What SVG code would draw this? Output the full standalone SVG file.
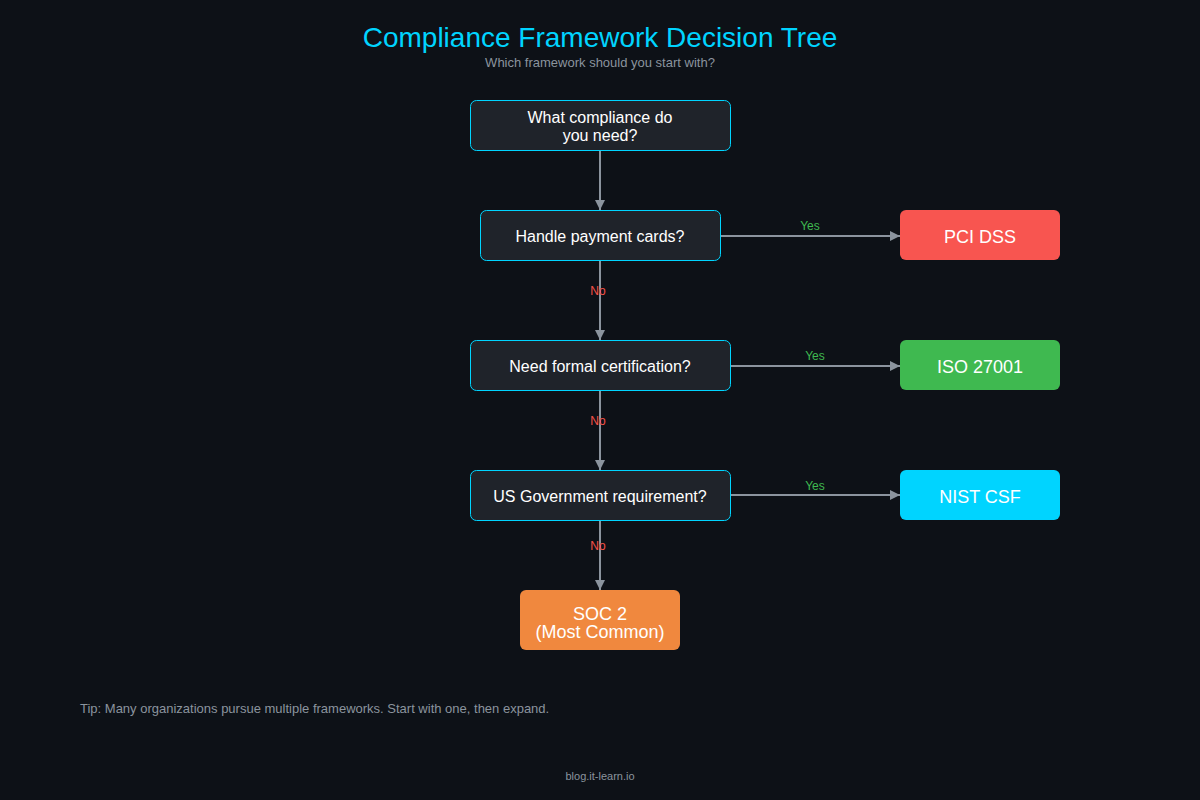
<svg xmlns="http://www.w3.org/2000/svg" width="1200" height="800" viewBox="0 0 1200 800">
<defs>
<marker id="arr" markerWidth="10" markerHeight="10" refX="10" refY="5" orient="auto" markerUnits="userSpaceOnUse">
<path d="M0,0 L10,5 L0,10 Z" fill="#8b949e"/>
</marker>
<style>
text{font-family:"Liberation Sans",Arial,sans-serif}
.q rect{fill:#1f232a;stroke:#00d4ff;stroke-width:1}
.q text{fill:#ffffff;font-size:16px;text-anchor:middle}
.r text{fill:#ffffff;font-size:18px;text-anchor:middle}
.c{stroke:#8b949e;stroke-width:2;fill:none}
.yes{fill:#3fb950;font-size:12px;text-anchor:middle}
.no{fill:#f85149;font-size:12px;text-anchor:middle}
</style>
</defs>
<rect width="1200" height="800" fill="#0d1117"/>
<text x="600" y="47" font-size="28" fill="#00d4ff" text-anchor="middle">Compliance Framework Decision Tree</text>
<text x="600" y="67" font-size="13" fill="#8b949e" text-anchor="middle">Which framework should you start with?</text>

<g id="connectors">
<line class="c" x1="600" y1="150" x2="600" y2="210" marker-end="url(#arr)"/>
<line class="c" x1="720" y1="236" x2="900" y2="236" marker-end="url(#arr)"/>
<line class="c" x1="600" y1="260" x2="600" y2="340" marker-end="url(#arr)"/>
<line class="c" x1="730" y1="366" x2="900" y2="366" marker-end="url(#arr)"/>
<line class="c" x1="600" y1="390" x2="600" y2="470" marker-end="url(#arr)"/>
<line class="c" x1="730" y1="495" x2="900" y2="495" marker-end="url(#arr)"/>
<line class="c" x1="600" y1="520" x2="600" y2="590" marker-end="url(#arr)"/>
<text class="yes" x="810" y="230">Yes</text>
<text class="yes" x="815" y="360">Yes</text>
<text class="yes" x="815" y="490">Yes</text>
<text class="no" x="598" y="295">No</text>
<text class="no" x="598" y="425">No</text>
<text class="no" x="598" y="550">No</text>
</g>

<g id="start" class="q">
<rect x="470.5" y="100.5" width="260" height="50" rx="6"/>
<text x="600" y="123">What compliance do</text>
<text x="600" y="141">you need?</text>
</g>
<g id="payment" class="q">
<rect x="480.5" y="210.5" width="240" height="50" rx="6"/>
<text x="600" y="242">Handle payment cards?</text>
</g>
<g id="cert" class="q">
<rect x="470.5" y="340.5" width="260" height="50" rx="6"/>
<text x="600" y="372">Need formal certification?</text>
</g>
<g id="gov" class="q">
<rect x="470.5" y="470.5" width="260" height="50" rx="6"/>
<text x="600" y="502">US Government requirement?</text>
</g>
<g id="pci" class="r">
<rect x="900" y="210" width="160" height="50" rx="6" fill="#f85550"/>
<text x="980" y="243">PCI DSS</text>
</g>
<g id="iso" class="r">
<rect x="900" y="340" width="160" height="50" rx="6" fill="#3fb950"/>
<text x="980" y="373">ISO 27001</text>
</g>
<g id="nist" class="r">
<rect x="900" y="470" width="160" height="50" rx="6" fill="#00d4ff"/>
<text x="980" y="503">NIST CSF</text>
</g>
<g id="soc2" class="r">
<rect x="520" y="590" width="160" height="60" rx="6" fill="#f0883e"/>
<text x="600" y="620">SOC 2</text>
<text x="600" y="638">(Most Common)</text>
</g>

<text x="80" y="713" font-size="13" fill="#8b949e">Tip: Many organizations pursue multiple frameworks. Start with one, then expand.</text>
<text x="600" y="780" font-size="11" fill="#8b949e" text-anchor="middle">blog.it-learn.io</text>
</svg>
